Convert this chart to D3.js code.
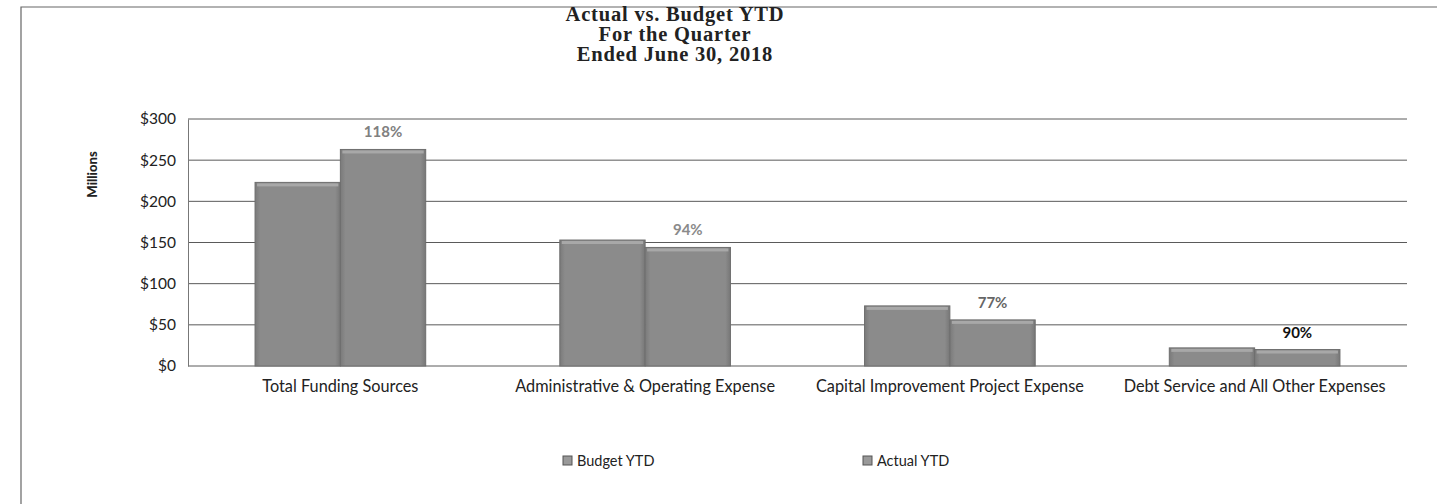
<!DOCTYPE html>
<html>
<head>
<meta charset="utf-8">
<script src="https://cdn.jsdelivr.net/npm/d3@7"></script>
<style>
  body { margin: 0; background: #fff; }
  text { font-family: Lato, "Open Sans", sans-serif; }
</style>
</head>
<body>
<div id="chart"></div>
<script>
// chart values
const categories = ["Total Funding Sources", "Administrative & Operating Expense",
  "Capital Improvement Project Expense", "Debt Service and All Other Expenses"];
const series = ["Budget YTD", "Actual YTD"];
const budgetYTD = [223, 153, 73, 22];
const actualYTD = [263, 144, 56, 20];
const pctLabels = ["118%", "94%", "77%", "90%"];
const yTicks = [0, 50, 100, 150, 200, 250, 300];
const titleLines = ["Actual vs. Budget YTD", "For the Quarter", "Ended June 30, 2018"];

const pctColors = ["#808080", "#8a8a8a", "#666", "#111"];

const W = 1437, H = 504;
const plot = { left: 188, right: 1407, top: 119, bottom: 366 };

const svg = d3.select("#chart")
    .append("svg")
    .attr("width", W)
    .attr("height", H);

// outer frame (only top and left edges visible in the scan)
svg.append("path")
    .attr("d", `M21,${H} L21,7 L${W},7`)
    .attr("fill", "none")
    .attr("stroke", "#666")
    .attr("stroke-width", 1.2);

// title
svg.append("text")
    .attr("x", 675).attr("y", 21)
    .attr("text-anchor", "middle")
    .style("font-family", "'Liberation Serif', serif")
    .style("font-weight", "bold")
    .style("font-size", "20.5px")
    .style("letter-spacing", "0.8px")
    .attr("fill", "#222")
    .selectAll("tspan")
    .data(titleLines)
    .join("tspan")
    .attr("x", 675)
    .attr("dy", (d, i) => i === 0 ? 0 : 20)
    .text(d => d);

// scales
const x0 = d3.scaleBand()
    .domain(categories)
    .range([plot.left, plot.right])
    .paddingInner(0.44)
    .paddingOuter(0.22);
const x1 = d3.scaleBand()
    .domain(series)
    .range([0, x0.bandwidth()]);
const y = d3.scaleLinear()
    .domain([0, 300])
    .range([plot.bottom, plot.top]);

// gridlines
svg.append("g")
    .selectAll("line")
    .data(yTicks)
    .join("line")
    .attr("x1", plot.left).attr("x2", plot.right)
    .attr("y1", d => y(d)).attr("y2", d => y(d))
    .attr("stroke", "#5a5a5a")
    .attr("stroke-width", 1);

// y axis
const yAxis = svg.append("g")
    .attr("transform", `translate(${plot.left},0)`)
    .call(d3.axisLeft(y).tickValues(yTicks).tickSize(0).tickPadding(12)
        .tickFormat(d => "$" + d));
yAxis.select(".domain").attr("stroke", "#777");
yAxis.selectAll("text")
    .style("font-size", "15.5px")
    .attr("fill", "#222");

svg.append("text")
    .attr("transform", `translate(97,${(plot.top + plot.bottom) / 2 - 68}) rotate(-90)`)
    .attr("text-anchor", "middle")
    .style("font-size", "13px")
    .style("font-weight", "900")
    .attr("fill", "#222")
    .text("Millions");

// x axis labels
const xAxis = svg.append("g")
    .attr("transform", `translate(0,${plot.bottom})`)
    .call(d3.axisBottom(x0).tickSize(0).tickPadding(14));
xAxis.select(".domain").remove();
xAxis.selectAll("text")
    .style("font-size", "16.3px")
    .attr("fill", "#222");

// bar gradient (bevelled 3D look)
const defs = svg.append("defs");
const grad = defs.append("linearGradient")
    .attr("id", "barGrad")
    .attr("x1", 0).attr("x2", 1).attr("y1", 0).attr("y2", 0);
grad.append("stop").attr("offset", "0%").attr("stop-color", "#7a7a7a");
grad.append("stop").attr("offset", "6%").attr("stop-color", "#8b8b8b");
grad.append("stop").attr("offset", "94%").attr("stop-color", "#8b8b8b");
grad.append("stop").attr("offset", "100%").attr("stop-color", "#777");

const rows = categories.map((c, i) => ({
    cat: c,
    vals: [{ s: series[0], v: budgetYTD[i] }, { s: series[1], v: actualYTD[i] }]
}));

const groups = svg.append("g")
    .selectAll("g")
    .data(rows)
    .join("g")
    .attr("transform", d => `translate(${x0(d.cat)},0)`);

groups.selectAll("rect.bar")
    .data(d => d.vals)
    .join("rect")
    .attr("class", "bar")
    .attr("x", d => x1(d.s))
    .attr("y", d => y(d.v))
    .attr("width", x1.bandwidth())
    .attr("height", d => y(0) - y(d.v))
    .attr("fill", "url(#barGrad)")
    .attr("stroke", "#6e6e6e")
    .attr("stroke-width", 1);

// top highlight
groups.selectAll("rect.hi")
    .data(d => d.vals)
    .join("rect")
    .attr("class", "hi")
    .attr("x", d => x1(d.s) + 2)
    .attr("y", d => y(d.v) + 1)
    .attr("width", x1.bandwidth() - 4)
    .attr("height", 3)
    .attr("fill", "#a8a8a8");

// percent labels above actual bars
svg.append("g")
    .selectAll("text")
    .data(rows)
    .join("text")
    .attr("x", d => x0(d.cat) + x1(series[1]) + x1.bandwidth() / 2)
    .attr("y", d => y(d.vals[1].v) - 12)
    .attr("text-anchor", "middle")
    .style("font-size", "15px")
    .style("font-weight", "bold")
    .attr("fill", (d, i) => pctColors[i])
    .text((d, i) => pctLabels[i]);

// legend
const legendX = [563, 863];
const legend = svg.append("g")
    .selectAll("g")
    .data(series)
    .join("g")
    .attr("transform", (d, i) => `translate(${legendX[i]},456)`);
legend.append("rect")
    .attr("width", 9).attr("height", 9)
    .attr("fill", "#999")
    .attr("stroke", "#555");
legend.append("text")
    .attr("x", 14).attr("y", 10)
    .style("font-size", "14.5px")
    .attr("fill", "#222")
    .text(d => d);
</script>
</body>
</html>
